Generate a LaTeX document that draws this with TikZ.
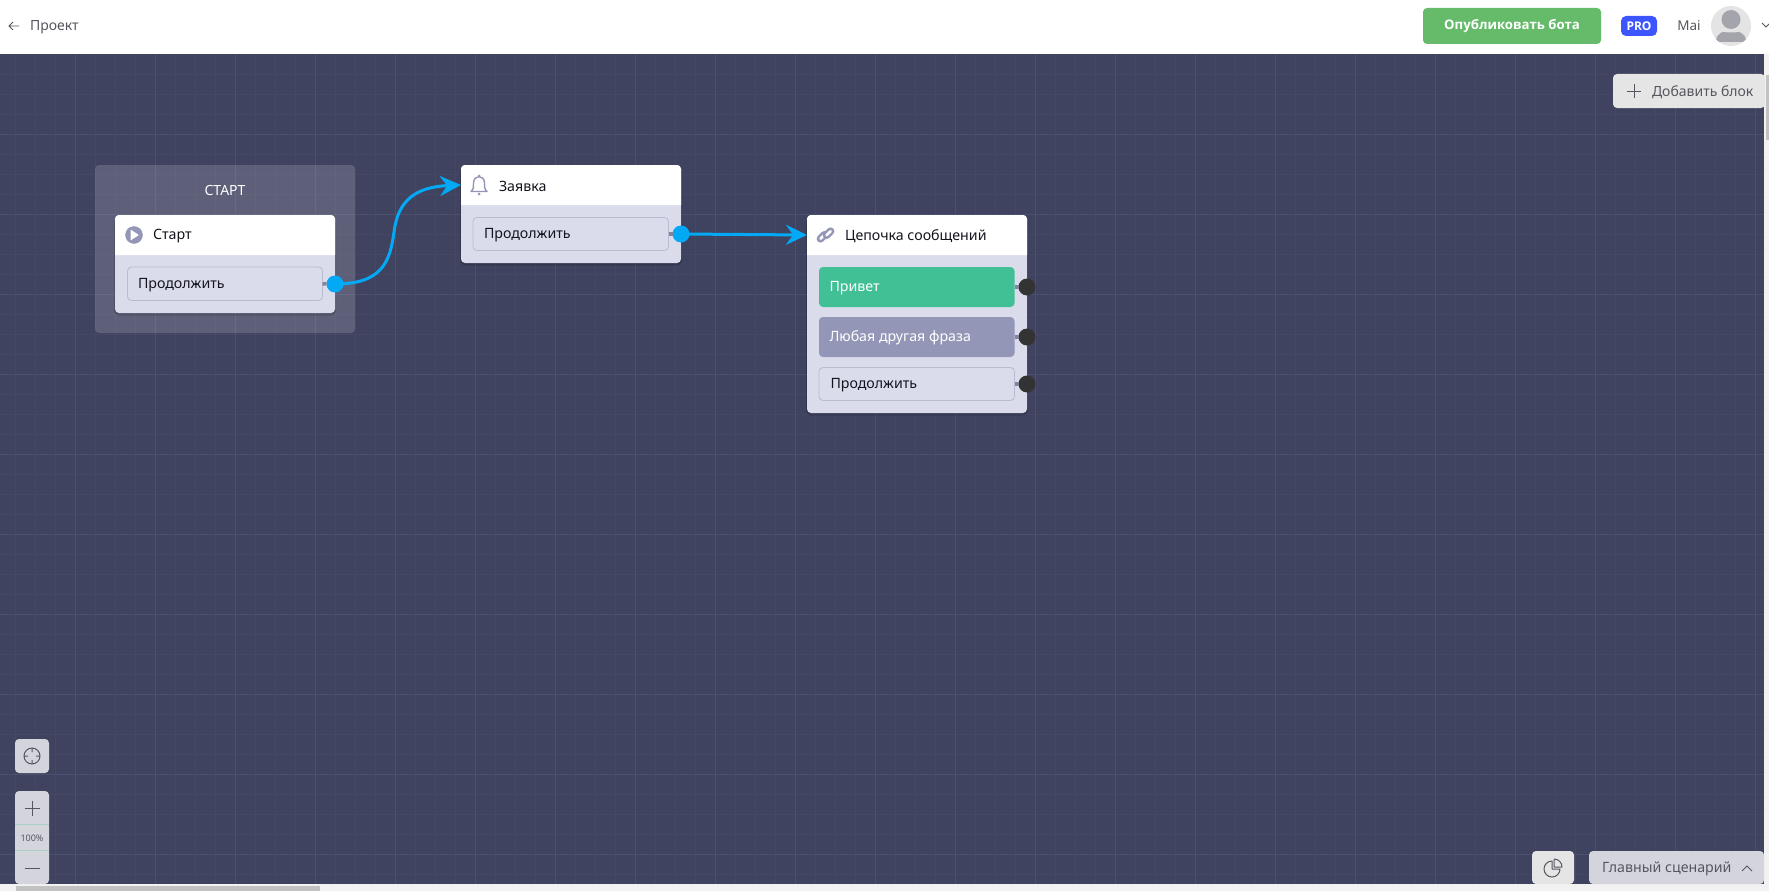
\documentclass[tikz,border=0pt]{standalone}
\usepackage{fontspec}
\setmainfont{Noto Sans}
\newfontfamily\boldfam{Open Sans}
\usetikzlibrary{arrows.meta,calc}
\definecolor{canvas}{HTML}{3F435F}
\definecolor{gridmin}{HTML}{444864}
\definecolor{gridmaj}{HTML}{4C506F}
\definecolor{bodyc}{HTML}{DADCEC}
\definecolor{btnline}{HTML}{B9BBD0}
\definecolor{linkblue}{HTML}{03A9F4}
\definecolor{iconc}{HTML}{9396B6}
\definecolor{stubc}{HTML}{81849C}
\definecolor{portdark}{HTML}{333333}
\definecolor{greenb}{HTML}{41BF95}
\definecolor{greyb}{HTML}{9396B6}
\definecolor{pubgreen}{HTML}{66BB6A}
\definecolor{problue}{HTML}{3D55FF}
\definecolor{inkc}{HTML}{14141E}
\definecolor{toolc}{HTML}{D4D5DC}
\definecolor{toolink}{HTML}{55565F}
\tikzset{
  x=1pt,y=-1pt,
  pane/.style={inner sep=0pt,outer sep=0pt,rectangle,rounded corners=#1},
  pane/.default=4pt,
  label/.style={inner sep=0pt,outer sep=0pt,anchor=west,yshift=-1.2pt,font=\fontsize{14.2}{16}\selectfont,text=inkc},
  port/.style={circle,inner sep=0pt,outer sep=0pt,minimum size=17pt},
  link/.style={draw=linkblue,line width=3pt,-{Stealth[length=21pt,width=20pt,inset=7pt]}},
  stub/.style={draw=stubc,line width=3.5pt},
  icon/.style={draw=iconc,line width=1.4pt,fill=none},
  tool/.style={draw=toolink,line width=1pt},
  capsout/.style={draw=iconc,line width=7.6pt,line cap=round},
  capsin/.style={draw=white,line width=2.6pt,line cap=round},
}
\newcommand{\pxpane}[6]{\node[pane,minimum width={(#4-#2)*1pt},minimum height={(#5-#3)*1pt},#6] (#1) at ({(#2+#4)/2},{(#3+#5)/2}) {};}
\newcommand{\pxblock}[5]{%
  \fill[black,opacity=.16,rounded corners=5pt] (#2-1,#3+2) rectangle (#4+1,#5+2.5);
  \pxpane{#1}{#2}{#3}{#4}{#5}{fill=bodyc}
  \fill[white] (#2,#3+40) [rounded corners=4pt] -- (#2,#3) -- (#4,#3) [sharp corners] -- (#4,#3+40) -- cycle;
  \pxpane{#1h}{#2}{#3}{#4}{#3+40}{}
}
\begin{document}
\begin{tikzpicture}
\useasboundingbox (0,0) rectangle (1769,891);
\fill[canvas] (0,0) rectangle (1769,891);
\foreach \gx in {15,35,...,1765} \draw[gridmin,line width=.8pt] (\gx,54) -- (\gx,891);
\foreach \gy in {74,94,...,891} \draw[gridmin,line width=.8pt] (0,\gy) -- (1769,\gy);
\foreach \gx in {75,155,...,1765} \draw[gridmaj,line width=.9pt] (\gx,54) -- (\gx,891);
\foreach \gy in {134,214,...,891} \draw[gridmaj,line width=.9pt] (0,\gy) -- (1769,\gy);
% top bar
\fill[white] (0,0) rectangle (1769,54);
\draw[toolink,line width=.8pt] (19,26) -- (9,26) (13,22) -- (9,26) -- (13,30);
\node[label,text=toolink,font=\fontsize{14}{16}\selectfont] (proj) at (30,26) {Проект};
\pxpane{pub}{1423}{8}{1601}{44}{fill=pubgreen}
\node[font=\fontsize{13.2}{16}\selectfont\boldfam\bfseries,text=white,inner sep=0pt] (pubt) at (pub) {Опубликовать бота};
\pxpane{pro}{1621}{16}{1657}{36}{fill=problue,rounded corners=5pt}
\node[font=\fontsize{12}{14}\selectfont\boldfam\bfseries,text=white,inner sep=0pt] (prot) at (pro) {PRO};
\node[font=\fontsize{13.5}{15}\selectfont,text=toolink,inner sep=0pt] (mai) at (1689,26) {Mai};
\node[circle,fill=black!4!gray!20,minimum size=40pt,inner sep=0pt] (ava) at (1731,26) {};
\begin{scope}
\clip (1731,26) circle (20);
\fill[iconc!30!gray!75] (1716,42) .. controls (1716,32) and (1724,31) .. (1731,31) .. controls (1738,31) and (1746,32) .. (1746,42) -- cycle;
\fill[black!4!gray!20] (1721,31) .. controls (1725,33) and (1737,33) .. (1741,31) -- (1741,29) -- (1721,29) -- cycle;
\fill[iconc!30!gray!75] (1731,19.5) circle (9.5);
\end{scope}
\draw[toolink,line width=.8pt] (1762,23) -- (1766,27) -- (1769,24);
% scrollbars
\fill[black!5] (1764,54) rectangle (1769,891);
\fill[black!5] (0,884) rectangle (1769,891);
\fill[black!24] (1765.5,75) rectangle (1769,140);
\fill[black!24] (16,886) rectangle (320,891);
% add block
\pxpane{add}{1613}{74}{1765}{108}{fill=black!2!gray!20}
\draw[tool] (1627,91) -- (1641,91) (1634,84) -- (1634,98);
\node[label,text=toolink,font=\fontsize{14}{16}\selectfont] (addt) at (1652,91) {Добавить блок};
% start group
\pxpane{grp}{95}{165}{355}{333}{fill=white,fill opacity=.155}
\node[font=\fontsize{14}{16}\selectfont,text=white,inner sep=0pt] (grpt) at (225,191) {СТАРТ};
% block 1
\pxblock{a}{115}{215}{335}{313}
\pxpane{ab}{127.5}{267}{322.5}{300.5}{draw=btnline,line width=.8pt}
\draw[iconc,fill=iconc] (134,235) circle (8.5);
\fill[white,rounded corners=.5pt] (130.5,229.5) -- (139,235) -- (130.5,240.5) -- cycle;
\node[label] (at) at (153,235) {Старт};
\node[label] (abt) at (138,284) {Продолжить};
% block 2
\pxblock{b}{461}{165}{681}{263}
\pxpane{bb}{473}{217.5}{668.5}{250.5}{draw=btnline,line width=.8pt}
\draw[icon,line join=round] (471,191.5) .. controls (474,189) and (473.5,186) .. (473.5,183) .. controls (473.5,174.5) and (484.5,174.5) .. (484.5,183) .. controls (484.5,186) and (484,189) .. (487,191.5) -- cycle;
\fill[iconc] (479,176) circle (1.5) (479,194) circle (1.5);
\node[label] (bt) at (499,185) {Заявка};
\node[label] (bbt) at (484,234) {Продолжить};
% block 3
\pxblock{c}{807}{215}{1027}{413}
\pxpane{c1}{819}{267}{1014.5}{307}{fill=greenb}
\pxpane{c2}{819}{317}{1014.5}{357}{fill=greyb}
\pxpane{c3}{819}{367.5}{1014.5}{400.5}{draw=btnline,line width=.8pt}
\begin{scope}[shift={(825.5,235)},rotate=45]
\draw[capsout] (-6.3,-.9) -- (-.5,-.9);
\draw[capsin] (-6.3,-.9) -- (-.5,-.9);
\draw[capsout] (.5,.9) -- (6.3,.9);
\draw[capsin] (.5,.9) -- (6.3,.9);
\end{scope}
\node[label] (ct) at (845,235) {Цепочка сообщений};
\node[label,text=white] (c1t) at (829.5,287) {Привет};
\node[label,text=white] (c2t) at (829.5,337) {Любая другая фраза};
\node[label] (c3t) at (830.5,384) {Продолжить};
% ports and stubs
\node[port,fill=linkblue,name=pa] at (335,284) {};
\node[port,fill=linkblue,name=pb] at (681,234) {};
\node[port,fill=portdark,name=p1] at (1027,287) {};
\node[port,fill=portdark,name=p2] at (1027,337) {};
\node[port,fill=portdark,name=p3] at (1027,384) {};
\draw[stub] (ab.east) -- (pa.west);
\draw[stub] (bb.east) -- (pb.west);
\draw[stub] (c1.east) -- (p1.west);
\draw[stub] (c2.east) -- (p2.west);
\draw[stub] (c3.east) -- (p3.west);
% connectors
\draw[link] (pa.center) .. controls (382,284) and (390,262) .. (394,232) .. controls (398,200) and (416,187) .. (bh.west);
\draw[link] (pb.center) -- (ch.west);
% lower left tools
\pxpane{loc}{15}{739}{49}{773}{fill=toolc}
\draw[tool] (32,756) circle (8) (32,748) -- (32,752) (32,760) -- (32,764) (24,756) -- (28,756) (36,756) -- (40,756);
\pxpane{zoom}{15}{791}{49}{884}{fill=toolc}
\draw[draw=greenb!30!toolc,line width=.8pt] (15,824.5) -- (49,824.5) (15,850.5) -- (49,850.5);
\draw[tool] (24.5,808) -- (39.5,808) (32,800.5) -- (32,815.5);
\node[font=\fontsize{9}{10}\selectfont,text=toolink,inner sep=0pt] (pct) at (32,838.5) {100\%};
\draw[tool] (24.5,868) -- (39.5,868);
% lower right tools
\pxpane{pie}{1532}{851}{1574}{884}{fill=black!2!gray!20}
\draw[tool,line join=round] (1552,861) arc[start angle=-90,end angle=-360,radius=8] -- (1552,869) -- cycle;
\draw[tool,line join=round] (1554,859) -- (1554,867) -- (1562,867) arc[start angle=0,end angle=-90,radius=8];
\pxpane{scn}{1589}{851}{1764}{884}{fill=toolc}
\node[label,text=toolink,font=\fontsize{14.2}{16}\selectfont] (scnt) at (1602,868) {Главный сценарий};
\draw[tool] (1742,871) -- (1747,866) -- (1752,871);
\end{tikzpicture}
\end{document}
